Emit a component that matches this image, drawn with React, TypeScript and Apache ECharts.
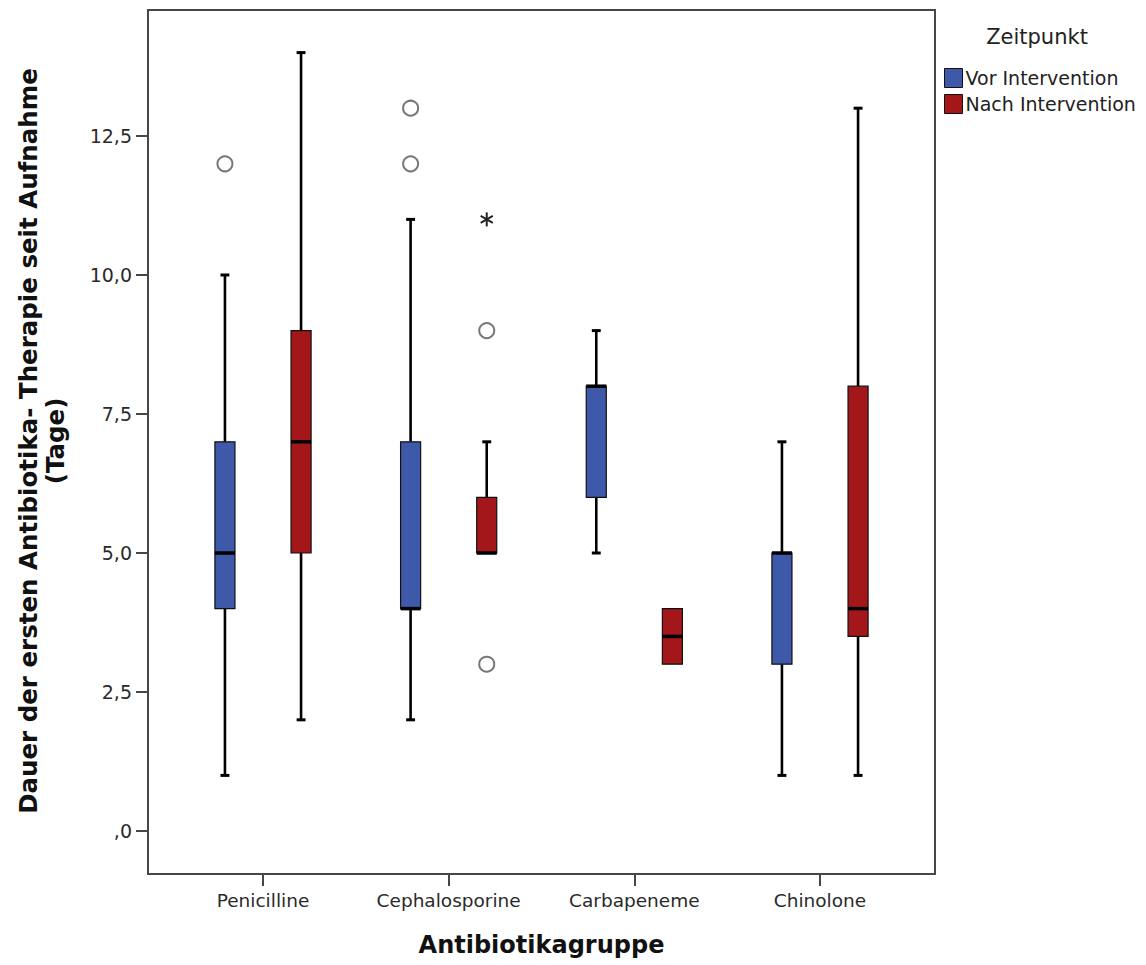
import React, { useEffect, useRef } from "react";
import * as echarts from "echarts";

const categories = ["Penicilline", "Cephalosporine", "Carbapeneme", "Chinolone"];
const groupNames = ["Vor Intervention", "Nach Intervention"];
// [low whisker, Q1, median, Q3, high whisker]
const vorStats = [
  [1, 4, 5, 7, 10],
  [2, 4, 4, 7, 11],
  [5, 6, 8, 8, 9],
  [1, 3, 5, 5, 7],
];
const nachStats = [
  [2, 5, 7, 9, 14],
  [5, 5, 5, 6, 7],
  [3, 3, 3.5, 4, 4],
  [1, 3.5, 4, 8, 13],
];
// [category index, value]
const vorOutliers = [
  [0, 12],
  [1, 12],
  [1, 13],
];
const nachOutliers = [
  [1, 3],
  [1, 9],
];
const nachExtremes = [[1, 11]];
const yTicks = [0, 2.5, 5, 7.5, 10, 12.5];
const catTicks = [0, 1, 2, 3];

const BLUE = "#3E58AA";
const RED = "#A3171B";
const FONT = "DejaVu Sans";
const OFFSET = 0.205;
const BOX_W = 0.108;
const CAP_W = 0.048;

function boxRenderer(offset: number) {
  return (params: any, api: any) => {
    const c = api.value(0) + offset;
    const low = api.value(1);
    const q1 = api.value(2);
    const med = api.value(3);
    const q3 = api.value(4);
    const high = api.value(5);
    const [cx, yLow] = api.coord([c, low]);
    const yQ1 = api.coord([c, q1])[1];
    const yMed = api.coord([c, med])[1];
    const yQ3 = api.coord([c, q3])[1];
    const yHigh = api.coord([c, high])[1];
    const hw = api.size([BOX_W, 0])[0] / 2;
    const cw = api.size([CAP_W, 0])[0] / 2;
    const color = api.visual("color");
    const children: any[] = [];
    const lineStyle = { stroke: "#000", lineWidth: 2.6 };
    if (high > q3) {
      children.push({ type: "line", shape: { x1: cx, y1: yQ3, x2: cx, y2: yHigh }, style: lineStyle });
      children.push({ type: "line", shape: { x1: cx - cw, y1: yHigh, x2: cx + cw, y2: yHigh }, style: { stroke: "#000", lineWidth: 3 } });
    }
    if (low < q1) {
      children.push({ type: "line", shape: { x1: cx, y1: yQ1, x2: cx, y2: yLow }, style: lineStyle });
      children.push({ type: "line", shape: { x1: cx - cw, y1: yLow, x2: cx + cw, y2: yLow }, style: { stroke: "#000", lineWidth: 3 } });
    }
    children.push({
      type: "rect",
      shape: { x: cx - hw, y: yQ3, width: hw * 2, height: yQ1 - yQ3 },
      style: { fill: color, stroke: "#111", lineWidth: 1.2 },
    });
    children.push({
      type: "line",
      shape: { x1: cx - hw, y1: yMed, x2: cx + hw, y2: yMed },
      style: { stroke: "#000", lineWidth: 3.5 },
    });
    return { type: "group", children };
  };
}

function starRenderer(offset: number) {
  return (params: any, api: any) => {
    const [x, y] = api.coord([api.value(0) + offset, api.value(1)]);
    const r = 7;
    const s = { stroke: "#222", lineWidth: 2 };
    const a = Math.cos(Math.PI / 6) * r;
    const b = Math.sin(Math.PI / 6) * r;
    return {
      type: "group",
      children: [
        { type: "line", shape: { x1: x, y1: y - r, x2: x, y2: y + r }, style: s },
        { type: "line", shape: { x1: x - a, y1: y - b, x2: x + a, y2: y + b }, style: s },
        { type: "line", shape: { x1: x - a, y1: y + b, x2: x + a, y2: y - b }, style: s },
      ],
    };
  };
}

export default function App() {
  const ref = useRef<HTMLDivElement>(null);
  useEffect(() => {
    if (!ref.current) return;
    const chart = echarts.init(ref.current, undefined, { renderer: "svg" });
    const axisColor = "#474747";
    const outlierStyle = { color: "#fff", borderColor: "#555", borderWidth: 2 };
    chart.setOption({
      animation: false,
      backgroundColor: "#fff",
      grid: {
        left: 148,
        top: 10,
        width: 787,
        height: 864,
        outerBoundsMode: "none",
        containLabel: false,
        show: true,
        borderColor: axisColor,
        borderWidth: 2,
        backgroundColor: "transparent",
      },
      legend: {
        data: groupNames,
        orient: "vertical",
        left: 939,
        top: 63,
        itemWidth: 18,
        itemHeight: 19,
        itemGap: 6,
        icon: "rect",
        itemStyle: { borderColor: "#111", borderWidth: 1 },
        textStyle: { fontFamily: FONT, fontSize: 19, color: "#222", padding: [0, 0, 0, -2] },
      },
      graphic: [
        {
          type: "text",
          x: 1037,
          y: 37,
          style: {
            text: "Zeitpunkt",
            fontFamily: FONT,
            fontSize: 21,
            fill: "#222",
            textAlign: "center",
            textVerticalAlign: "middle",
          },
        },
        {
          type: "text",
          x: 42,
          y: 441,
          rotation: Math.PI / 2,
          style: {
            text: "Dauer der ersten Antibiotika- Therapie seit Aufnahme\n(Tage)",
            fontFamily: FONT,
            fontSize: 24.5,
            fontWeight: "bold",
            fill: "#111",
            lineHeight: 27,
            textAlign: "center",
            textVerticalAlign: "middle",
          },
        },
      ],
      xAxis: {
        type: "value",
        min: -0.6194,
        max: 3.6194,
        name: "Antibiotikagruppe",
        nameLocation: "middle",
        nameGap: 59,
        nameTextStyle: { fontFamily: FONT, fontSize: 24, fontWeight: "bold", color: "#111" },
        splitLine: { show: false },
        axisLine: { show: true, onZero: false, lineStyle: { color: axisColor, width: 2 } },
        axisTick: { show: true, length: 12, customValues: catTicks, lineStyle: { color: axisColor, width: 2 } },
        axisLabel: {
          customValues: catTicks,
          margin: 17,
          fontFamily: FONT,
          fontSize: 18.5,
          color: "#2a2a2a",
          formatter: (v: number) => categories[Math.round(v)] ?? "",
        },
      },
      yAxis: {
        type: "value",
        min: -0.773,
        max: 14.766,
        splitLine: { show: false },
        axisLine: { show: true, onZero: false, lineStyle: { color: axisColor, width: 2 } },
        axisTick: { show: true, length: 12, customValues: yTicks, lineStyle: { color: axisColor, width: 2 } },
        axisLabel: {
          customValues: yTicks,
          margin: 16,
          fontFamily: FONT,
          fontSize: 19,
          color: "#2a2a2a",
          formatter: (v: number) => (v === 0 ? ",0" : v.toFixed(1).replace(".", ",")),
        },
      },
      series: [
        {
          name: groupNames[0],
          type: "custom",
          itemStyle: { color: BLUE },
          renderItem: boxRenderer(-OFFSET),
          data: vorStats.map((s, i) => [i, ...s]),
          encode: { x: 0, y: [1, 2, 3, 4, 5] },
          z: 3,
        },
        {
          name: groupNames[1],
          type: "custom",
          itemStyle: { color: RED },
          renderItem: boxRenderer(OFFSET),
          data: nachStats.map((s, i) => [i, ...s]),
          encode: { x: 0, y: [1, 2, 3, 4, 5] },
          z: 3,
        },
        {
          name: "vorOutliers",
          type: "scatter",
          symbol: "circle",
          symbolSize: 15,
          itemStyle: outlierStyle,
          data: vorOutliers.map(([c, v]) => [c - OFFSET, v]),
          z: 4,
        },
        {
          name: "nachOutliers",
          type: "scatter",
          symbol: "circle",
          symbolSize: 15,
          itemStyle: outlierStyle,
          data: nachOutliers.map(([c, v]) => [c + OFFSET, v]),
          z: 4,
        },
        {
          name: "nachExtremes",
          type: "custom",
          renderItem: starRenderer(OFFSET),
          data: nachExtremes,
          encode: { x: 0, y: 1 },
          z: 4,
        },
      ],
    });
    return () => chart.dispose();
  }, []);
  return (
    <div
      ref={ref}
      style={{ position: "fixed", left: 0, top: 0, width: 1146, height: 965, background: "#fff" }}
    />
  );
}
